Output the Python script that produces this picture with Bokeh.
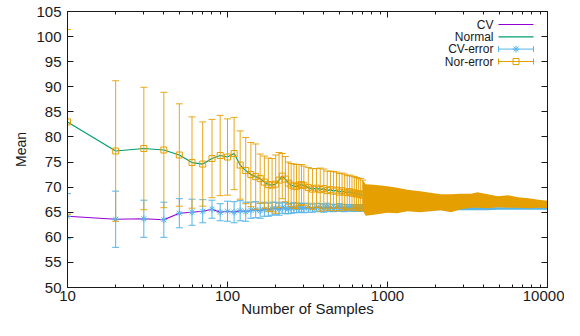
from bokeh.plotting import figure
from bokeh.models import FixedTicker, LinearAxis, LogAxis, Range1d, Label, BasicTickFormatter
from bokeh.embed import file_html
from bokeh.resources import INLINE

# ---------------- data ----------------
samples = [10, 20, 30, 40, 50, 60, 70, 80, 90, 100,
           110, 120, 130, 140, 150, 160, 170, 180, 190, 200,
           210, 220, 230, 240, 250, 260, 270, 280, 290, 300,
           320, 340, 360, 380, 400, 420, 440, 460, 480, 500,
           520, 540, 560, 580, 600, 620, 640, 660, 680, 700]

normal_mean = [83.0, 77.2, 77.7, 77.4, 76.4, 74.9, 74.6, 75.7, 76.3, 76.0,
               76.7, 74.4, 73.3, 72.5, 72.1, 71.7, 71.0, 70.5, 70.4, 70.6,
               71.4, 72.2, 71.6, 70.8, 70.4, 70.2, 70.1, 70.4, 70.5, 70.3,
               69.9, 69.6, 69.8, 69.5, 69.7, 69.3, 69.5, 69.2, 69.4, 69.0,
               69.3, 69.0, 68.9, 69.1, 68.8, 68.9, 68.6, 68.7, 68.5, 68.4]

normal_err = [18.4, 14.0, 12.2, 11.5, 10.2, 9.1, 8.4, 7.8, 8.0, 7.6,
              7.2, 6.8, 6.6, 6.4, 6.5, 4.9, 5.2, 5.3, 5.3, 5.8,
              5.5, 4.5, 4.5, 4.2, 4.3, 4.4, 4.4, 4.1, 4.0, 3.9,
              4.0, 4.1, 3.9, 4.3, 3.9, 3.9, 3.7, 3.9, 3.6, 3.7,
              3.5, 3.6, 3.4, 3.3, 3.4, 3.2, 3.3, 3.1, 3.2, 3.0]

cv_mean = [64.2, 63.6, 63.7, 63.5, 64.8, 65.0, 65.2, 65.6, 65.0, 65.2,
           65.0, 65.3, 65.1, 65.4, 65.5, 65.3, 65.6, 65.5, 65.7, 65.8,
           65.6, 65.9, 65.8, 65.7, 65.8, 65.9, 65.8, 65.9, 65.9, 65.8,
           65.9, 65.8, 66.0, 65.9, 65.8, 66.0, 65.9, 65.8, 65.9, 66.0,
           65.9, 65.8, 65.9, 65.9, 65.8, 65.9, 65.8, 65.9, 65.8, 65.9]

cv_err = [4.5, 5.6, 3.7, 3.5, 2.9, 2.6, 2.3, 1.8, 1.7, 2.0,
          2.1, 2.0, 1.9, 1.6, 1.6, 1.5, 1.4, 1.3, 1.3, 1.2,
          1.2, 1.1, 1.1, 1.0, 1.0, 1.0, 0.9, 0.9, 0.9, 0.9,
          0.9, 0.8, 0.8, 0.8, 0.8, 0.8, 0.7, 0.7, 0.7, 0.7,
          0.7, 0.7, 0.6, 0.6, 0.6, 0.6, 0.6, 0.6, 0.6, 0.6]

# dense part (error bars merge into a solid band): envelope
band_samples = [700, 730, 820, 1000, 1150, 1330, 1600, 1850, 2150, 2490,
                2880, 3330, 3650, 4230, 4900, 5660, 6550, 7590, 8780, 10000]
nor_band_high = [71.4, 70.6, 70.5, 70.2, 69.9, 69.5, 69.2, 68.9, 68.6, 68.6,
                 68.7, 68.7, 69.0, 68.6, 68.2, 68.4, 68.0, 67.8, 67.5, 67.3]
nor_band_low = [65.4, 64.3, 64.5, 64.9, 64.8, 65.2, 65.0, 65.2, 65.4, 65.0,
                65.6, 65.9, 65.9, 65.8, 66.0, 65.9, 65.9, 65.8, 65.9, 65.8]
cv_band_high = [66.5, 66.4, 66.4, 66.3, 66.3, 66.2, 66.2, 66.2, 66.1, 66.1,
                66.1, 66.0, 66.0, 66.0, 66.0, 66.0, 66.0, 66.0, 66.0, 66.0]
cv_band_low = [65.3, 65.3, 65.3, 65.3, 65.3, 65.4, 65.4, 65.4, 65.4, 65.4,
               65.4, 65.4, 65.4, 65.4, 65.5, 65.5, 65.5, 65.5, 65.5, 65.5]

x_ticks = [10, 100, 1000, 10000]
x_tick_labels = ["10", "100", "1000", "10000"]
x_minor_ticks = [20, 30, 40, 50, 60, 70, 80, 90,
                 200, 300, 400, 500, 600, 700, 800, 900,
                 2000, 3000, 4000, 5000, 6000, 7000, 8000, 9000]
y_ticks = [50, 55, 60, 65, 70, 75, 80, 85, 90, 95, 100, 105]

legend_names = ["CV", "Normal", "CV-error", "Nor-error"]
x_title = "Number of Samples"
y_title = "Mean"

# ---------------- style ----------------
C_CV = "#9400d3"
C_NOR = "#009e73"
C_CVERR = "#56b4e9"
C_NORERR = "#e69f00"
FONT = "Liberation Sans"
INK = "#1a1a1a"

W, H = 564, 320
BL, BR, BT, BB = 67, 17, 11, 33
FW, FH = W - BL - BR, H - BT - BB
XMIN, XMAX, YMIN, YMAX = 10, 10000, 50, 105


def fx(px):  # frame pixel (from left) -> data x (log)
    return 10 ** (1 + 3 * px / FW)


def fy(py):  # frame pixel (from top) -> data y
    return YMAX - (YMAX - YMIN) * py / FH


p = figure(width=W, height=H, x_axis_type="log",
           x_range=Range1d(XMIN, XMAX), y_range=Range1d(YMIN, YMAX),
           output_backend="svg", toolbar_location=None, title=None,
           min_border_left=BL, min_border_right=BR,
           min_border_top=BT, min_border_bottom=BB)
p.xgrid.visible = False
p.ygrid.visible = False
p.outline_line_color = INK
p.outline_line_width = 1
p.background_fill_color = "white"
p.border_fill_color = "white"

bottom_axis = p.below[0]
left_axis = p.left[0]
top_axis = LogAxis()
right_axis = LinearAxis()
p.add_layout(top_axis, "above")
p.add_layout(right_axis, "right")

for ax in [bottom_axis, top_axis]:
    ax.ticker = FixedTicker(ticks=x_ticks, minor_ticks=x_minor_ticks)
    ax.formatter = BasicTickFormatter(use_scientific=False)
    ax.major_label_overrides = {float(t): s for t, s in zip(x_ticks, x_tick_labels)}
for ax in [left_axis, right_axis]:
    ax.ticker = FixedTicker(ticks=y_ticks, minor_ticks=[])

for ax in [bottom_axis, top_axis, left_axis, right_axis]:
    ax.axis_line_color = INK
    ax.major_tick_line_color = INK
    ax.minor_tick_line_color = INK
    ax.major_tick_in = 6
    ax.major_tick_out = 0
    ax.minor_tick_in = 3
    ax.minor_tick_out = 0
    ax.major_label_text_font = FONT
    ax.major_label_text_font_size = "15px"
    ax.major_label_text_color = INK
    ax.axis_label_text_font = FONT
    ax.axis_label_text_font_style = "normal"
    ax.axis_label_text_color = INK

for ax in [top_axis, right_axis]:
    ax.major_label_text_color = None
    ax.major_label_text_font_size = "1px"
    ax.major_label_standoff = 0

bottom_axis.major_label_standoff = 3
bottom_axis.axis_label = x_title
bottom_axis.axis_label_text_font_size = "15px"
bottom_axis.axis_label_standoff = -4
left_axis.major_label_standoff = 6
left_axis.axis_label = y_title
left_axis.axis_label_text_font_size = "14px"
left_axis.axis_label_standoff = 4

# ---------------- series ----------------
nor_lo = [m - e for m, e in zip(normal_mean, normal_err)]
nor_hi = [m + e for m, e in zip(normal_mean, normal_err)]
cv_lo = [m - e for m, e in zip(cv_mean, cv_err)]
cv_hi = [m + e for m, e in zip(cv_mean, cv_err)]

# CV and Normal lines
p.line(samples, cv_mean, line_color=C_CV, line_width=1.2)
p.line(samples, normal_mean, line_color=C_NOR, line_width=1.2)

# CV-error
p.segment(x0=samples, y0=cv_lo, x1=samples, y1=cv_hi, line_color=C_CVERR, line_width=1)
p.scatter(samples, cv_lo, marker="dash", size=7, line_color=C_CVERR, line_width=1)
p.scatter(samples, cv_hi, marker="dash", size=7, line_color=C_CVERR, line_width=1)
p.scatter(samples, cv_mean, marker="asterisk", size=7, line_color=C_CVERR, line_width=1)
p.varea(x=band_samples, y1=cv_band_low, y2=cv_band_high, fill_color=C_CVERR)

# Nor-error
p.segment(x0=samples, y0=nor_lo, x1=samples, y1=nor_hi, line_color=C_NORERR,
          line_width=1, line_alpha=0.9)
p.scatter(samples, nor_lo, marker="dash", size=7, line_color=C_NORERR, line_width=1, line_alpha=0.9)
p.scatter(samples, nor_hi, marker="dash", size=7, line_color=C_NORERR, line_width=1, line_alpha=0.9)
p.scatter(samples, normal_mean, marker="square", size=6, fill_color=None,
          line_color=C_NORERR, line_width=1)
p.varea(x=band_samples, y1=nor_band_low, y2=nor_band_high, fill_color=C_NORERR)

# ---------------- legend (gnuplot style: text right-aligned, sample on the right) ----------------
rows = [13, 25.3, 37.6, 50]
TX, S0, S1 = 426, 431, 466
SM = (S0 + S1) / 2
for name, r in zip(legend_names, rows):
    p.add_layout(Label(x=fx(TX), y=fy(r), text=name, text_align="right",
                       text_baseline="middle", text_font=FONT,
                       text_font_size="12px", text_color=INK))
p.line([fx(S0), fx(S1)], [fy(rows[0])] * 2, line_color=C_CV, line_width=1.2)
p.line([fx(S0), fx(S1)], [fy(rows[1])] * 2, line_color=C_NOR, line_width=1.2)
for r, col, mk, ms in [(rows[2], C_CVERR, "asterisk", 7), (rows[3], C_NORERR, "square", 6)]:
    p.line([fx(S0), fx(S1)], [fy(r)] * 2, line_color=col, line_width=1)
    p.segment(x0=[fx(S0), fx(S1)], y0=[fy(r - 3)] * 2, x1=[fx(S0), fx(S1)], y1=[fy(r + 3)] * 2,
              line_color=col, line_width=1)
    p.scatter([fx(SM)], [fy(r)], marker=mk, size=ms, fill_color=None, line_color=col, line_width=1)

open("out.html", "w").write(file_html(p, INLINE))
